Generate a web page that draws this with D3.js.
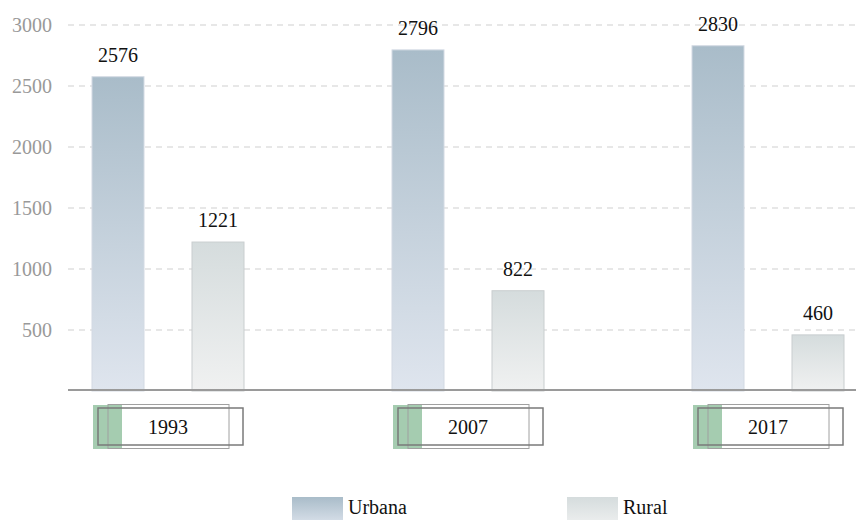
<!DOCTYPE html>
<html><head><meta charset="utf-8">
<script src="https://cdn.jsdelivr.net/npm/d3@7/dist/d3.min.js"></script>
<style>body{margin:0;background:#fff}svg{display:block}</style>
</head><body>
<svg id="c" width="856" height="520"></svg>
<script>
const years = ["1993", "2007", "2017"];
const seriesNames = ["Urbana", "Rural"];
const urbana = [2576, 2796, 2830];
const rural = [1221, 822, 460];
const yTicks = [500, 1000, 1500, 2000, 2500, 3000];

const FONT = "Liberation Serif";
const svg = d3.select("#c");
const x0 = d3.scaleBand().domain(years).range([18, 918]);
const x1 = d3.scalePoint().domain(seriesNames).range([100, 200]);
const y = d3.scaleLinear().domain([0, 3000]).range([391, 25]);
const barW = 52;

const defs = svg.append("defs");
const gU = defs.append("linearGradient").attr("id", "gU").attr("x1", 0).attr("y1", 0).attr("x2", 0).attr("y2", 1);
gU.append("stop").attr("offset", "0%").attr("stop-color", "#a9bcc9");
gU.append("stop").attr("offset", "100%").attr("stop-color", "#dfe5ee");
const gR = defs.append("linearGradient").attr("id", "gR").attr("x1", 0).attr("y1", 0).attr("x2", 0).attr("y2", 1);
gR.append("stop").attr("offset", "0%").attr("stop-color", "#d5dcdd");
gR.append("stop").attr("offset", "100%").attr("stop-color", "#f0f1f1");

// grid
svg.append("g").selectAll("line").data(yTicks).join("line")
  .attr("x1", 68).attr("x2", 856)
  .attr("y1", d => y(d)).attr("y2", d => y(d))
  .attr("stroke", "#cfcfcf").attr("stroke-width", 1).attr("stroke-dasharray", "6,5");

// y axis labels
const yAxis = d3.axisLeft(y).tickValues(yTicks).tickSize(0).tickPadding(0).tickFormat(d3.format("d"));
const ya = svg.append("g").attr("transform", "translate(52,0)").call(yAxis);
ya.select(".domain").remove();
ya.selectAll("text").style("font-family", FONT).style("font-size", "20px").attr("fill", "#999").attr("dy", "0.32em");

const data = [];
years.forEach((yr, i) => {
  data.push({year: yr, s: "Urbana", v: urbana[i]});
  data.push({year: yr, s: "Rural", v: rural[i]});
});

svg.append("g").selectAll("rect").data(data).join("rect")
  .attr("x", d => x0(d.year) + x1(d.s) - barW / 2)
  .attr("width", barW)
  .attr("y", d => y(d.v))
  .attr("height", d => y(0) - y(d.v))
  .attr("fill", d => d.s === "Urbana" ? "url(#gU)" : "url(#gR)")
  .attr("stroke", d => d.s === "Urbana" ? "#d3dae3" : "#c9cecf")
  .attr("stroke-width", 1);

svg.append("g").selectAll("text").data(data).join("text")
  .attr("x", d => x0(d.year) + x1(d.s))
  .attr("y", d => y(d.v) - 15)
  .attr("text-anchor", "middle")
  .style("font-family", FONT).style("font-size", "20px").attr("fill", "#111")
  .text(d => d.v);

// baseline
svg.append("line").attr("x1", 68).attr("x2", 856).attr("y1", 390).attr("y2", 390)
  .attr("stroke", "#9a9a9a").attr("stroke-width", 2);

// year labels
const lab = svg.append("g").selectAll("g").data(years).join("g")
  .attr("transform", d => `translate(${x0(d) + x0.bandwidth() / 2},0)`);
lab.append("rect").attr("x", -75).attr("y", 405).attr("width", 29).attr("height", 44)
  .attr("fill", "#8fbf9c").attr("opacity", 0.8);
lab.append("rect").attr("x", -60).attr("y", 404.5).attr("width", 121).attr("height", 44)
  .attr("fill", "none").attr("stroke", "#a0a0a0").attr("stroke-width", 1);
lab.append("rect").attr("x", -70).attr("y", 408).attr("width", 145).attr("height", 37)
  .attr("fill", "none").attr("stroke", "#7a7a7a").attr("stroke-width", 1.5);
lab.append("text").attr("x", 0).attr("y", 434).attr("text-anchor", "middle")
  .style("font-family", FONT).style("font-size", "20px").attr("fill", "#111").text(d => d);

// legend
const legX = [292, 567];
const leg = svg.append("g").selectAll("g").data(seriesNames).join("g")
  .attr("transform", (d, i) => `translate(${legX[i]},0)`);
leg.append("rect").attr("x", 0).attr("y", 497).attr("width", 51).attr("height", 30)
  .attr("fill", (d, i) => i === 0 ? "url(#gU)" : "url(#gR)");
leg.append("text").attr("x", 56).attr("y", 514)
  .style("font-family", FONT).style("font-size", "20px").attr("fill", "#111").text(d => d);
</script>
</body></html>
